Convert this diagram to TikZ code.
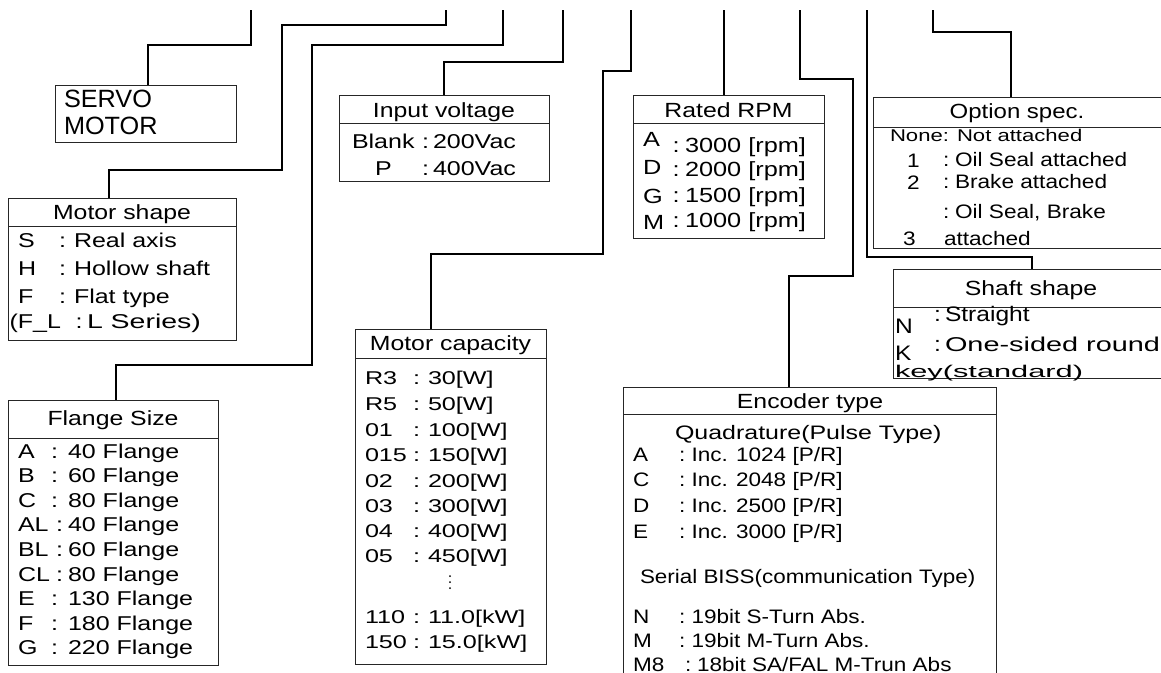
\documentclass[tikz,border=0pt]{standalone}
\usepackage{graphicx}
\usepackage{fontspec}
\setmainfont{Liberation Sans}
\newcommand{\tx}[3]{\scalebox{#2}[1]{\fontsize{#1}{#1}\selectfont #3}}
\newcommand{\fhd}{\tx{20.5}{1.21}}
\newcommand{\fms}{\tx{20}{1.25}}
\newcommand{\ffl}{\tx{20}{1.25}}
\newcommand{\fiv}{\tx{20}{1.25}}
\newcommand{\frp}{\tx{20.5}{1.235}}
\newcommand{\fmc}{\tx{18.5}{1.36}}
\newcommand{\fen}{\tx{19.5}{1.155}}
\newcommand{\fop}{\tx{19.5}{1.16}}
\newcommand{\fsh}{\tx{21}{1.17}}
\tikzset{
  box/.style={draw=black!85, line width=1pt, inner sep=0pt, outer sep=0pt, anchor=north west},
  conn/.style={draw=black, line width=1.4pt},
  sep/.style={draw=black!85, line width=1pt},
  lbl/.style={anchor=base west, inner sep=0pt, outer sep=0pt},
  hd/.style={anchor=base, inner sep=0pt, outer sep=0pt}
}
\begin{document}
\begin{tikzpicture}[x=1pt,y=-1pt]
\useasboundingbox (0,0) rectangle (1161,672);
\fill[white] (0,0) rectangle (1161,672);
% ---------------- boxes
\node[box, minimum width=181pt, minimum height=57pt]  (servo) at (55,85) {};
\node[box, minimum width=228pt, minimum height=142pt] (ms)    at (8,198) {};
\node[box, minimum width=210pt, minimum height=265pt] (fl)    at (8,400) {};
\node[box, minimum width=210pt, minimum height=86pt]  (iv)    at (339,95) {};
\node[box, minimum width=191pt, minimum height=335pt] (mc)    at (355,329) {};
\node[box, minimum width=191pt, minimum height=143pt] (rpm)   at (633,95) {};
\node[box, minimum width=373pt, minimum height=300pt] (enc)   at (623,387) {};
\node[box, minimum width=300pt, minimum height=151pt] (opt)   at (873,97) {};
\node[box, minimum width=280pt, minimum height=109pt] (sh)    at (893,269) {};
% header separators
\draw[sep] ([yshift=-28pt]ms.north west)  -- ([yshift=-28pt]ms.north east);
\draw[sep] ([yshift=-38pt]fl.north west)  -- ([yshift=-38pt]fl.north east);
\draw[sep] ([yshift=-28pt]iv.north west)  -- ([yshift=-28pt]iv.north east);
\draw[sep] ([yshift=-29pt]mc.north west)  -- ([yshift=-29pt]mc.north east);
\draw[sep] ([yshift=-28pt]rpm.north west) -- ([yshift=-28pt]rpm.north east);
\draw[sep] ([yshift=-27pt]enc.north west) -- ([yshift=-27pt]enc.north east);
\draw[sep] ([yshift=-30pt]opt.north west) -- ([yshift=-30pt]opt.north east);
\draw[sep] ([yshift=-38pt]sh.north west)  -- ([yshift=-38pt]sh.north east);
% ---------------- connectors
\coordinate (t1) at (251,10);
\coordinate (t2) at (446,10);
\coordinate (t3) at (503,10);
\coordinate (t4) at (563,10);
\coordinate (t5) at (631,10);
\coordinate (t6) at (724,10);
\coordinate (t7) at (800,10);
\coordinate (t8) at (867,10);
\coordinate (t9) at (933,10);
\draw[conn] (t1) |- (148,45) -- (servo.north -| 148,0);
\draw[conn] (t2) |- (282,25) |- (109,170) -- (ms.north -| 109,0);
\draw[conn] (t3) |- (312,45) |- (116,365) -- (fl.north -| 116,0);
\draw[conn] (t4) |- (444,62) -- (iv.north -| 444,0);
\draw[conn] (t5) |- (603,71) |- (431,254) -- (mc.north -| 431,0);
\draw[conn] (t6) -- (rpm.north -| 724,0);
\draw[conn] (t7) |- (853,79) |- (789,276) -- (enc.north -| 789,0);
\draw[conn] (t8) |- (1032,257) -- (sh.north -| 1032,0);
\draw[conn] (t9) |- (1011,32) -- (opt.north -| 1011,0);
% ---------------- SERVO MOTOR
\node[lbl] (sv1) at (64,107) {\tx{25}{1.01}{SERVO}};
\node[lbl] (sv2) at (64,134) {\tx{25}{1.01}{MOTOR}};
% ---------------- Motor shape
\node[hd] (msh) at (122,219.3) {\fhd{Motor shape}};
\node[lbl] (ms1) at (18,247.5) {\fms{S}};
\node[lbl] (ms1c) at (59,247.5) {\fms{:}};
\node[lbl] (ms1v) at (74,247.5) {\fms{Real axis}};
\node[lbl] (ms2) at (18,275.7) {\fms{H}};
\node[lbl] (ms2c) at (59,275.7) {\fms{:}};
\node[lbl] (ms2v) at (74,275.7) {\fms{Hollow shaft}};
\node[lbl] (ms3) at (18,303) {\fms{F}};
\node[lbl] (ms3c) at (59,303) {\fms{:}};
\node[lbl] (ms3v) at (74,303) {\fms{Flat type}};
\node[lbl] (ms4) at (9.5,328) {\fms{(F\_L}};
\node[lbl] (ms4c) at (75.5,328) {\fms{:}};
\node[lbl] (ms4v) at (87,328) {\resizebox{114pt}{\height}{\fontsize{20}{20}\selectfont L Series)}};
% ---------------- Flange Size
\node[hd] (flh) at (113,425) {\fhd{Flange Size}};
\foreach \c/\cx/\v/\y [count=\i] in {A/51/40 Flange/458, B/51/60 Flange/482.6, C/51/80 Flange/507.2,
  AL/56/40 Flange/531.8, BL/56/60 Flange/556.4, CL/56/80 Flange/581,
  E/51/130 Flange/605.6, F/51/180 Flange/630.2, G/51/220 Flange/654.8}{
  \node[lbl] (fl\i) at (18,\y) {\ffl{\c}};
  \node[lbl] (fl\i c) at (\cx,\y) {\ffl{:}};
  \node[lbl] (fl\i v) at (68,\y) {\ffl{\v}};
}
% ---------------- Input voltage
\node[hd] (ivh) at (444,117) {\fhd{Input voltage}};
\node[lbl] (iv1) at (352,148) {\fiv{Blank}};
\node[lbl] (iv1c) at (422,148) {\fiv{:}};
\node[lbl] (iv1v) at (433,148) {\fiv{200Vac}};
\node[lbl] (iv2) at (375,175) {\fiv{P}};
\node[lbl] (iv2c) at (422,175) {\fiv{:}};
\node[lbl] (iv2v) at (433,175) {\fiv{400Vac}};
% ---------------- Motor capacity
\node[hd] (mch) at (450.5,350) {\fhd{Motor capacity}};
\foreach \c/\v/\y [count=\i] in {R3/30[W]/384, R5/50[W]/410.5, 01/100[W]/436.5, 015/150[W]/461,
  02/200[W]/487.5, 03/300[W]/512.5, 04/400[W]/537.5, 05/450[W]/562.5, 110/11.0[kW]/623, 150/15.0[kW]/648}{
  \node[lbl] (mc\i) at (365,\y) {\fmc{\c}};
  \node[lbl] (mc\i c) at (413,\y) {\fmc{:}};
  \node[lbl] (mc\i v) at (428,\y) {\fmc{\v}};
}
\fill (450,576) circle (1pt) (450,582) circle (1pt) (450,588) circle (1pt);
% ---------------- Rated RPM
\node[hd] (rph) at (728.5,117) {\fhd{Rated RPM}};
\foreach \c/\yc/\v/\y [count=\i] in {A/146.3/3000 [rpm]/152, D/174.7/2000 [rpm]/176.3, G/203/1500 [rpm]/202, M/229.7/1000 [rpm]/227.3}{
  \node[lbl] (rp\i) at (643,\yc) {\frp{\c}};
  \node[lbl] (rp\i c) at (672.5,\y) {\frp{:}};
  \node[lbl] (rp\i v) at (685,\y) {\frp{\v}};
}
% ---------------- Encoder type
\node[hd] (enh) at (810,408) {\fhd{Encoder type}};
\node[lbl] (enq) at (675,439) {\tx{19.5}{1.28}{Quadrature(Pulse Type)}};
\node[lbl] (en1) at (633,461.7) {\fen{A}};
\node[lbl] (en1c) at (679,461.7) {\fen{:}};
\node[lbl] (en1v) at (691.5,461.7) {\fen{Inc. 1024 [P/R]}};
\node[lbl] (en2) at (633,486.7) {\fen{C}};
\node[lbl] (en2c) at (679,486.7) {\fen{:}};
\node[lbl] (en2v) at (691.5,486.7) {\fen{Inc. 2048 [P/R]}};
\node[lbl] (en3) at (633,512.7) {\fen{D}};
\node[lbl] (en3c) at (679,512.7) {\fen{:}};
\node[lbl] (en3v) at (691.5,512.7) {\fen{Inc. 2500 [P/R]}};
\node[lbl] (en4) at (633,538.3) {\fen{E}};
\node[lbl] (en4c) at (679,538.3) {\fen{:}};
\node[lbl] (en4v) at (691.5,538.3) {\fen{Inc. 3000 [P/R]}};
\node[lbl] (ens) at (640,583.3) {\tx{19.5}{1.15}{Serial BISS(communication Type)}};
\node[lbl] (en5) at (633,623.3) {\fen{N}};
\node[lbl] (en5c) at (679,623.3) {\fen{:}};
\node[lbl] (en5v) at (691.5,623.3) {\fen{19bit S-Turn Abs.}};
\node[lbl] (en6) at (633,647.3) {\fen{M}};
\node[lbl] (en6c) at (679,647.3) {\fen{:}};
\node[lbl] (en6v) at (691.5,647.3) {\fen{19bit M-Turn Abs.}};
\node[lbl] (en7) at (633,671.7) {\fen{M8}};
\node[lbl] (en7c) at (685,671.7) {\fen{:}};
\node[lbl] (en7v) at (697,671.7) {\fen{18bit SA/FAL M-Trun Abs}};
% ---------------- Option spec.
\node[hd] (oph) at (1017,118) {\tx{20.5}{1.17}{Option spec.}};
\node[lbl] (op0) at (890,141.5) {\tx{17}{1.30}{None:}};
\node[lbl] (op0v) at (957,141.5) {\tx{17}{1.30}{Not attached}};
\node[lbl] (op1) at (907,167.7) {\fop{1}};
\node[lbl] (op1c) at (943,166.7) {\fop{:}};
\node[lbl] (op1v) at (955,166.7) {\fop{Oil Seal attached}};
\node[lbl] (op2) at (907,189.3) {\fop{2}};
\node[lbl] (op2c) at (943,188.3) {\fop{:}};
\node[lbl] (op2v) at (955,188.3) {\fop{Brake attached}};
\node[lbl] (op3c) at (943,218.3) {\fop{:}};
\node[lbl] (op3v) at (955,218.3) {\fop{Oil Seal, Brake}};
\node[lbl] (op3) at (903,245) {\fop{3}};
\node[lbl] (op3w) at (944,245) {\fop{attached}};
% ---------------- Shaft shape
\node[hd] (shh) at (1031,295) {\fhd{Shaft shape}};
\node[lbl] (sh1) at (895,333.3) {\fsh{N}};
\node[lbl] (sh1c) at (934,321.7) {\fsh{:}};
\node[lbl] (sh1v) at (945,321.7) {\fsh{Straight}};
\node[lbl] (sh2) at (895,360.5) {\fsh{K}};
\node[lbl] (sh2c) at (934,351.7) {\fsh{:}};
\node[lbl] (sh2v) at (945,351.7) {\resizebox{215pt}{\height}{\fontsize{20}{20}\selectfont One-sided round}};
\node[lbl] (sh3) at (895,377.5) {\resizebox{188pt}{\height}{\fontsize{17}{17}\selectfont key(standard)}};
\end{tikzpicture}
\end{document}
